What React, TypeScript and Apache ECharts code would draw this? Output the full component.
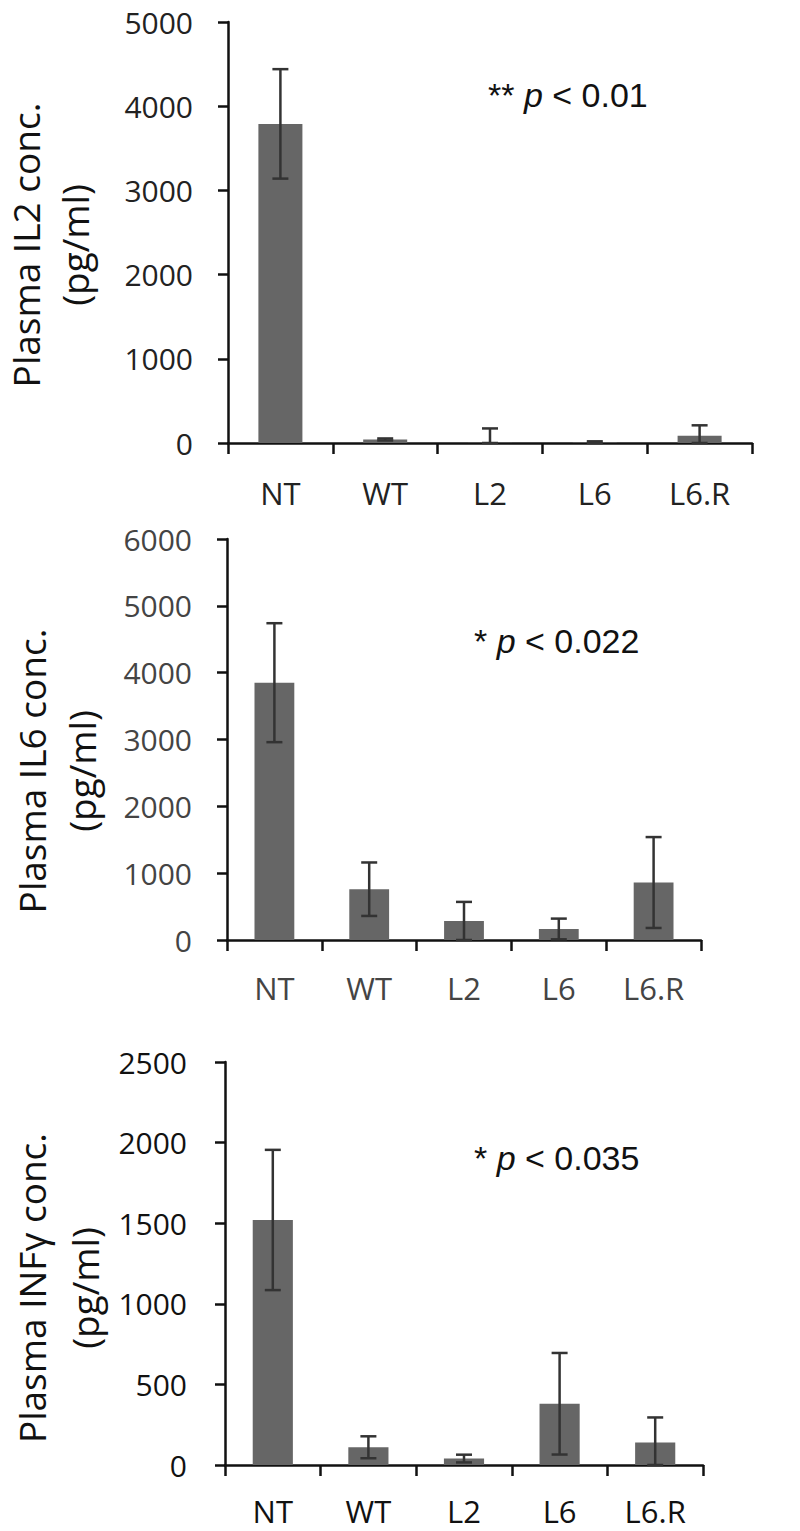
import React, { useEffect, useRef } from "react";
import * as echarts from "echarts";

const categories = ["NT", "WT", "L2", "L6", "L6.R"];

const il2Values = [3790, 42, 3, 5, 85];
const il2Errors = [650, 12, 170, 15, 125];

const il6Values = [3850, 760, 285, 165, 860];
const il6Errors = [890, 400, 285, 155, 680];

const infgValues = [1520, 110, 40, 380, 140];
const infgErrors = [435, 68, 24, 315, 155];

const yMax = [5000, 6000, 2500];
const yInterval = [1000, 1000, 500];
const titles = ["Plasma IL2 conc.", "Plasma IL6 conc.", "Plasma INFγ conc."];
const unitLabel = "(pg/ml)";
const pTexts = [
  ["**", "p", "< 0.01"],
  ["*", "p", "< 0.022"],
  ["*", "p", "< 0.035"],
];

const FONT = "'Open Sans', 'DejaVu Sans', sans-serif";
const ARIAL = "'Liberation Sans', Arial, sans-serif";

export default function App() {
  const ref = useRef<HTMLDivElement>(null);
  useEffect(() => {
    if (!ref.current) return;
    const chart = echarts.init(ref.current, null, { renderer: "svg" });

    const grids = [
      { left: 228, top: 22, width: 524, height: 421 },
      { left: 227, top: 539, width: 474, height: 401 },
      { left: 225, top: 1062, width: 478, height: 403 },
    ];
    const xLabelMargin = [34, 32, 30];
    const yLabelMargin = [35, 35, 38];
    const tickColors = ["#222", "#444", "#111"];
    const valuesAll = [il2Values, il6Values, infgValues];
    const errorsAll = [il2Errors, il6Errors, infgErrors];

    const xAxes = grids.map((_, i) => ({
      type: "category",
      gridIndex: i,
      data: categories,
      axisLine: { lineStyle: { color: "#111", width: 2.5 } },
      axisTick: { show: true, inside: false, length: 11, lineStyle: { color: "#111", width: 2.5 } },
      axisLabel: { color: tickColors[i], fontSize: 31, lineHeight: 32, fontFamily: FONT, margin: xLabelMargin[i] },
      splitLine: { show: false },
    }));
    const yAxes = grids.map((_, i) => ({
      type: "value",
      gridIndex: i,
      min: 0,
      max: yMax[i],
      interval: yInterval[i],
      axisLine: { show: true, lineStyle: { color: "#111", width: 2.5 } },
      axisTick: { show: true, inside: false, length: 10, lineStyle: { color: "#111", width: 2.5 } },
      axisLabel: {
        color: tickColors[i],
        fontSize: 30,
        lineHeight: 26,
        fontFamily: FONT,
        margin: yLabelMargin[i],
        formatter: (v: number) => String(v),
      },
      splitLine: { show: false },
    }));

    const series: any[] = [];
    valuesAll.forEach((vals, i) => {
      series.push({
        type: "bar",
        xAxisIndex: i,
        yAxisIndex: i,
        data: vals,
        barWidth: "42%",
        itemStyle: { color: "#666666" },
        silent: true,
      });
      series.push({
        type: "custom",
        xAxisIndex: i,
        yAxisIndex: i,
        encode: { x: 0, y: [1, 2] },
        data: vals.map((v, k) => [k, v + errorsAll[i][k], Math.max(0, v - errorsAll[i][k])]),
        z: 10,
        renderItem: (params: any, api: any) => {
          const hi = api.coord([api.value(0), api.value(1)]);
          const lo = api.coord([api.value(0), api.value(2)]);
          const half = 8;
          const style = { stroke: "#333", lineWidth: 2.5 };
          return {
            type: "group",
            children: [
              { type: "line", shape: { x1: hi[0], y1: hi[1], x2: lo[0], y2: lo[1] }, style },
              { type: "line", shape: { x1: hi[0] - half, y1: hi[1], x2: hi[0] + half, y2: hi[1] }, style },
              { type: "line", shape: { x1: lo[0] - half, y1: lo[1], x2: lo[0] + half, y2: lo[1] }, style },
            ],
          };
        },
      });
    });

    const titlePos = [
      { x1: 25, x2: 74, y: 245 },
      { x1: 31, x2: 81, y: 771 },
      { x1: 31, x2: 84, y: 1288 },
    ];
    const pPos = [
      { x: 488, y: 95 },
      { x: 474, y: 641 },
      { x: 474, y: 1158 },
    ];
    const graphics: any[] = [];
    titlePos.forEach((p, i) => {
      graphics.push({
        type: "text",
        x: p.x1,
        y: p.y,
        rotation: Math.PI / 2,
        style: {
          text: titles[i],
          fill: "#111",
          font: `37px ${FONT}`,
          textAlign: "center",
          textVerticalAlign: "middle",
        },
      });
      graphics.push({
        type: "text",
        x: p.x2,
        y: p.y,
        rotation: Math.PI / 2,
        style: {
          text: unitLabel,
          fill: "#111",
          font: `37px ${FONT}`,
          textAlign: "center",
          textVerticalAlign: "middle",
        },
      });
    });
    pPos.forEach((p, i) => {
      const [stars, pv, rest] = pTexts[i];
      graphics.push({
        type: "text",
        x: p.x,
        y: p.y,
        style: {
          text: `{a|${stars} }{b|${pv}}{a| ${rest}}`,
          textAlign: "left",
          textVerticalAlign: "middle",
          rich: {
            a: { fontSize: 34, fontFamily: ARIAL, fill: "#111", color: "#111" },
            b: { fontSize: 34, fontFamily: ARIAL, fontStyle: "italic", fill: "#111", color: "#111" },
          },
        },
      });
    });

    chart.setOption({
      animation: false,
      backgroundColor: "#ffffff",
      grid: grids,
      xAxis: xAxes,
      yAxis: yAxes,
      series,
      graphic: graphics,
    });
    return () => chart.dispose();
  }, []);
  return (
    <div
      ref={ref}
      style={{ position: "absolute", left: 0, top: 0, width: 800, height: 1531, background: "#fff" }}
    />
  );
}
